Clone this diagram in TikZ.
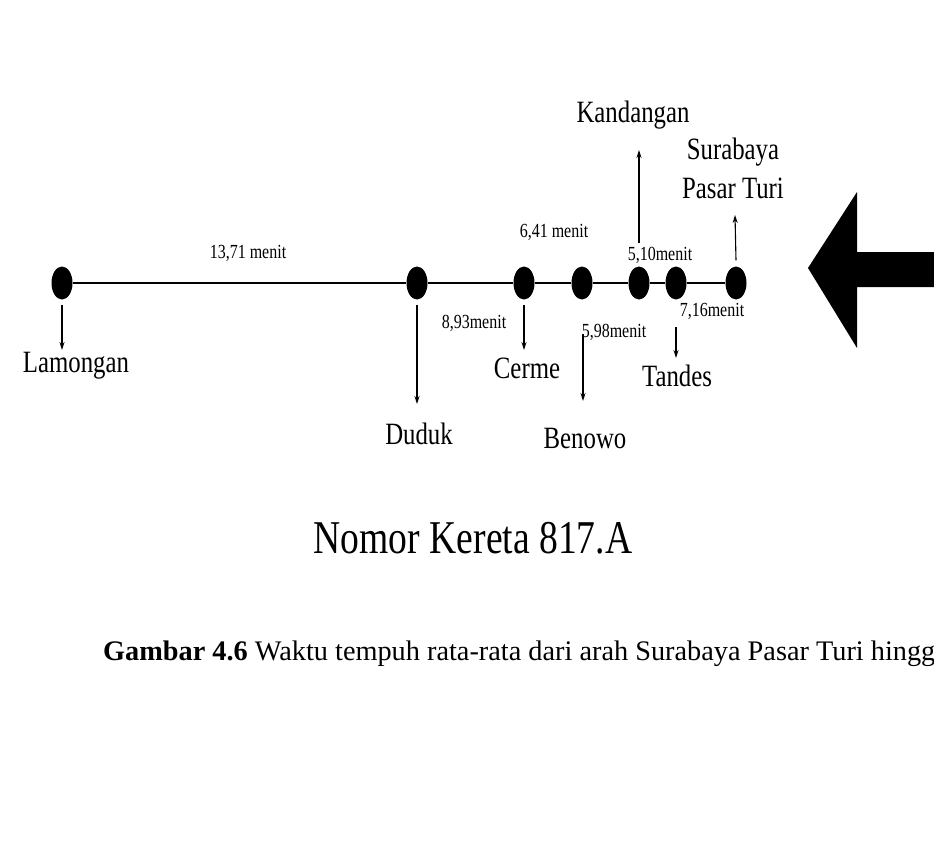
\documentclass[tikz,border=0pt]{standalone}
\usepackage{fontspec}
\setmainfont{Liberation Serif}
\newfontfamily\condfont[FakeStretch=0.8]{Liberation Serif}
\usetikzlibrary{arrows.meta,shapes.geometric}
\begin{document}
\begin{tikzpicture}[x=1pt,y=-1pt,
  stop/.style={ellipse, fill=black, draw=none, minimum width=21pt, minimum height=33pt, inner sep=0pt},
  stationtxt/.style={font=\condfont\fontsize{31}{31}\selectfont, anchor=base, inner sep=0pt},
  minstxt/.style={font=\condfont\fontsize{20}{20}\selectfont, anchor=base, inner sep=0pt},
  titletxt/.style={font=\condfont\fontsize{47}{47}\selectfont, anchor=base, inner sep=0pt},
  captxt/.style={font=\fontsize{28.3}{28.3}\selectfont, anchor=base west, inner sep=0pt},
  lead/.style={-{Stealth[length=8pt,width=5pt]}, line width=1.1pt},
  track/.style={line width=1.3pt},
  bigarrow/.style={fill=black, draw=none}]
\useasboundingbox (0,0) rectangle (934,845);
\fill[white] (0,0) rectangle (934,845);
\clip (0,0) rectangle (934,845);

% stops
\node[stop] (lam) at (62,283) {};
\node[stop] (dud) at (417,283) {};
\node[stop] (cer) at (524,283) {};
\node[stop] (ben) at (582,283) {};
\node[stop] (kan) at (639,283) {};
\node[stop] (tan) at (676,283) {};
\node[stop] (spt) at (736,283) {};

\draw[track] (lam) -- (dud) -- (cer) -- (ben) -- (kan) -- (tan) -- (spt);

% station names
\node[stationtxt] (lamt) at (76,372) {Lamongan};
\node[stationtxt] (dudt) at (419,444) {Duduk};
\node[stationtxt] (cert) at (527,378) {Cerme};
\node[stationtxt] (bent) at (585,448) {Benowo};
\node[stationtxt] (tant) at (677,386) {Tandes};
\node[stationtxt] (kant) at (633,123) {Kandangan};
\node[stationtxt] (sptA) at (733,160) {Surabaya};
\node[stationtxt] (sptB) at (733,199) {Pasar Turi};

% travel times
\node[minstxt] (m1) at (248,258) {13,71 menit};
\node[minstxt] (m2) at (474,328) {8,93menit};
\node[minstxt] (m3) at (554,237) {6,41 menit};
\node[minstxt] (m4) at (614,337) {5,98menit};
\node[minstxt] (m5) at (660,260) {5,10menit};
\node[minstxt] (m6) at (712,316) {7,16menit};

% arrow ends
\coordinate (lamE) at (62,350);
\coordinate (dudE) at (417,404);
\coordinate (cerE) at (524,350);
\coordinate (benS) at (583,334);
\coordinate (benE) at (583,401);
\coordinate (tanS) at (676,327);
\coordinate (tanE) at (676,358);
\coordinate (kanS) at (639,243);
\coordinate (kanE) at (639,150);
\coordinate (sptE) at (735,215);

\draw[lead] ([yshift=-5pt]lam.south) -- (lamE);
\draw[lead] ([yshift=-5pt]dud.south) -- (dudE);
\draw[lead] ([yshift=-5pt]cer.south) -- (cerE);
\draw[lead] (benS) -- (benE);
\draw[lead] (tanS) -- (tanE);
\draw[lead] (kanS) -- (kanE);
\draw[lead] ([yshift=6pt]spt.north) -- (sptE);

% big direction arrow
\fill[bigarrow] (808,268) -- (857,192) -- (857,252) -- (934,252) -- (934,287) -- (857,287) -- (857,348) -- cycle;

% title and caption
\node[titletxt] (title) at (473,553) {Nomor Kereta 817.A};
\node[captxt] (cap) at (103,660) {\textbf{Gambar 4.6} Waktu tempuh rata-rata dari arah Surabaya Pasar Turi hingg};
\end{tikzpicture}
\end{document}
